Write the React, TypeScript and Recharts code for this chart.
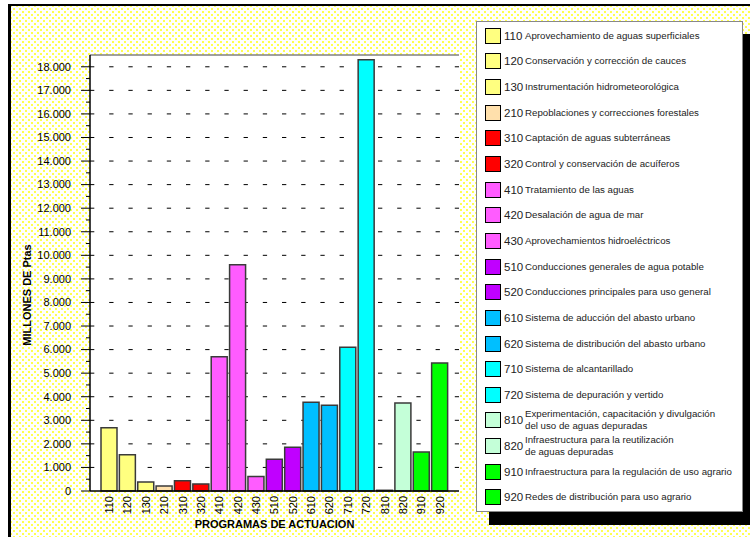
import React from "react";
import {
  Bar,
  BarChart,
  CartesianGrid,
  Cell,
  Label,
  Legend,
  ReferenceLine,
  XAxis,
  YAxis,
} from "recharts";

// programas de actuacion (codes on the x axis)
const CODES = [
  "110", "120", "130", "210", "310", "320", "410", "420", "430", "510",
  "520", "610", "620", "710", "720", "810", "820", "910", "920",
];

// millones de pesetas
const VALUES = [
  2680, 1540, 380, 210, 430, 300, 5700, 9600, 620, 1350,
  1860, 3770, 3640, 6100, 18300, 30, 3730, 1650, 5430,
];

const COLORS = [
  "#FFFF80", "#FFFF80", "#FFFF80", "#FFE0AC", "#FF0000", "#FF0000",
  "#FF5CFF", "#FF5CFF", "#FF5CFF", "#C000FF", "#C000FF", "#00BFFF",
  "#00BFFF", "#00FFFF", "#00FFFF", "#C4FFD8", "#C4FFD8", "#00FF00",
  "#00FF00",
];

const DESCRIPTIONS = [
  ["Aprovechamiento de aguas superficiales"],
  ["Conservación y corrección de cauces"],
  ["Instrumentación hidrometeorológica"],
  ["Repoblaciones y correcciones forestales"],
  ["Captación de aguas subterráneas"],
  ["Control y conservación de acuíferos"],
  ["Tratamiento de las aguas"],
  ["Desalación de agua de mar"],
  ["Aprovechamientos hidroeléctricos"],
  ["Conducciones generales de agua potable"],
  ["Conducciones principales para uso general"],
  ["Sistema de aducción del abasto urbano"],
  ["Sistema de distribución del abasto urbano"],
  ["Sistema de alcantarillado"],
  ["Sistema de depuración y vertido"],
  ["Experimentación, capacitación y divulgación", "del uso de aguas depuradas"],
  ["Infraestructura para la reutilización", "de aguas depuradas"],
  ["Infraestructura para la regulación de uso agrario"],
  ["Redes de distribución para uso agrario"],
];

const Y_TICKS = [
  0, 500, 1000, 1500, 2000, 2500, 3000, 3500, 4000, 4500, 5000, 5500,
  6000, 6500, 7000, 7500, 8000, 8500, 9000, 9500, 10000, 10500, 11000,
  11500, 12000, 12500, 13000, 13500, 14000, 14500, 15000, 15500, 16000,
  16500, 17000, 17500, 18000,
];
const GRID_TICKS = [
  1000, 2000, 3000, 4000, 5000, 6000, 7000, 8000, 9000, 10000, 11000,
  12000, 13000, 14000, 15000, 16000, 17000, 18000,
];
const Y_MAX = 18500;

const data = CODES.map((code, i) => ({ code, value: VALUES[i] }));

const FONT = "'Liberation Sans', Arial, sans-serif";

const fmt = (v: number) => String(v).replace(/\B(?=(\d{3})+(?!\d))/g, ".");

function LeftTick({ x, y, payload }: any) {
  const v = payload.value as number;
  const major = v % 1000 === 0;
  return (
    <g>
      <line x1={x - (major ? 9 : 4)} x2={x} y1={y} y2={y} stroke="#000" />
      {major ? (
        <text
          x={x - 19}
          y={y}
          dy="0.35em"
          textAnchor="end"
          fontSize={11}
          fontFamily={FONT}
          fill="#000"
        >
          {fmt(v)}
        </text>
      ) : null}
    </g>
  );
}

function RightTick({ x, y }: any) {
  // inward tick on the right frame of the plot
  return <line x1={x - 4} x2={x} y1={y} y2={y} stroke="#000" />;
}

function BottomTick({ x, y, payload }: any) {
  return (
    <text
      x={x}
      y={y}
      dy="0.35em"
      textAnchor="end"
      transform={`rotate(-90 ${x} ${y})`}
      fontSize={11}
      fontFamily={FONT}
      fill="#000"
    >
      {payload.value}
    </text>
  );
}

function ProgramLegend() {
  return (
    <div
      style={{
        width: 267,
        height: 491,
        boxSizing: "border-box",
        background: "#fff",
        border: "1px solid #888",
        boxShadow: "13px 13px 0 #000",
        paddingTop: 1,
        fontFamily: FONT,
        color: "#222",
      }}
    >
      {CODES.map((code, i) => (
        <div
          key={code}
          style={{
            height: 25.65,
            display: "flex",
            alignItems: "center",
            paddingLeft: 8,
          }}
        >
          <div
            style={{
              width: 16,
              height: 16,
              boxSizing: "border-box",
              background: COLORS[i],
              border: "1px solid #000",
              flex: "none",
            }}
          />
          <span style={{ fontSize: 11.5, width: 21, marginLeft: 3, flex: "none" }}>
            {code}
          </span>
          <span style={{ fontSize: 9.7, lineHeight: "12px", whiteSpace: "nowrap" }}>
            {DESCRIPTIONS[i].map((line) => (
              <div key={line}>{line}</div>
            ))}
          </span>
        </div>
      ))}
    </div>
  );
}

export default function App() {
  return (
    <div
      style={{
        position: "fixed",
        left: 0,
        top: 0,
        width: 750,
        height: 537,
        background: "#fff",
        overflow: "hidden",
      }}
    >
      <div
        style={{
          position: "absolute",
          left: 8,
          top: 4,
          width: 760,
          height: 560,
          borderLeft: "3px solid #000",
          borderTop: "2.5px solid #000",
          backgroundColor: "#fff",
          backgroundImage:
            "radial-gradient(circle, #ffff50 0.9px, transparent 1.4px), radial-gradient(circle, #ffff50 0.9px, transparent 1.4px)",
          backgroundSize: "6px 6px, 6px 6px",
          backgroundPosition: "0 0, 3px 3px",
        }}
      />
      <div style={{ position: "absolute", left: 0, top: 0 }}>
        <BarChart
          width={750}
          height={537}
          data={data}
          margin={{ top: 55, right: 291, bottom: 16, left: 30 }}
          barCategoryGap={1}
        >
          <CartesianGrid
            yAxisId="l"
            vertical={false}
            horizontalValues={GRID_TICKS}
            stroke="#000"
            strokeDasharray="4.3 14.9"
            fill="#fff"
          />
          <XAxis
            dataKey="code"
            interval={0}
            height={30}
            padding={{ left: 10, right: 10 }}
            tickLine={false}
            tickSize={0}
            tickMargin={5}
            axisLine={{ stroke: "#000", strokeWidth: 1.5 }}
            tick={<BottomTick />}
          >
            <Label
              content={({ viewBox }: any) => (
                <text
                  x={viewBox.x + viewBox.width / 2}
                  y={524}
                  dy="0.35em"
                  textAnchor="middle"
                  fontSize={11}
                  fontWeight="bold"
                  fontFamily={FONT}
                  fill="#000"
                >
                  PROGRAMAS DE ACTUACION
                </text>
              )}
            />
          </XAxis>
          <YAxis
            yAxisId="l"
            width={60}
            domain={[0, Y_MAX]}
            ticks={Y_TICKS}
            interval={0}
            tickLine={false}
            tickSize={0}
            tickMargin={0}
            axisLine={{ stroke: "#000", strokeWidth: 1.5 }}
            tick={<LeftTick />}
          >
            <Label
              content={() => (
                <text
                  x={27}
                  y={295}
                  dy="0.35em"
                  textAnchor="middle"
                  transform="rotate(-90 27 295)"
                  fontSize={11}
                  fontWeight="bold"
                  fontFamily={FONT}
                  fill="#000"
                >
                  MILLONES DE Ptas
                </text>
              )}
            />
          </YAxis>
          <YAxis
            yAxisId="r"
            orientation="right"
            width={0}
            domain={[0, Y_MAX]}
            ticks={GRID_TICKS}
            interval={0}
            tickLine={false}
            tickSize={0}
            tickMargin={0}
            tick={<RightTick />}
            axisLine={{ stroke: "#808080", strokeWidth: 1.5 }}
          />
          <ReferenceLine
            yAxisId="l"
            y={Y_MAX}
            stroke="#808080"
            strokeWidth={1.5}
          />
          <Legend
            layout="vertical"
            align="center"
            verticalAlign="middle"
            content={() => <ProgramLegend />}
            wrapperStyle={{ left: 476, top: 21, width: 267, height: 491 }}
          />
          <Bar
            yAxisId="l"
            dataKey="value"
            stroke="#3a3a3a"
            strokeWidth={1.5}
            isAnimationActive={false}
          >
            {data.map((d, i) => (
              <Cell key={d.code} fill={COLORS[i]} />
            ))}
          </Bar>
        </BarChart>
      </div>
    </div>
  );
}
